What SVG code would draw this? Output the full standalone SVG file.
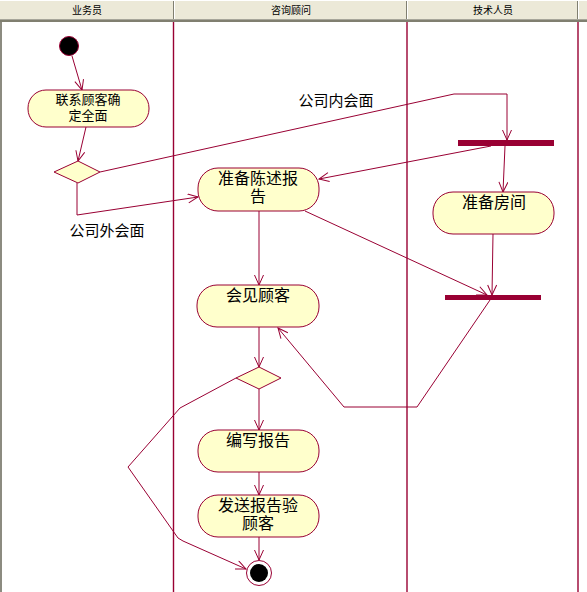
<svg xmlns="http://www.w3.org/2000/svg" width="587" height="592" viewBox="0 0 587 592">
<style>
.lane{stroke:#990033;stroke-width:1.4;fill:none}
.edge{stroke:#990033;stroke-width:1;fill:none;marker-end:url(#arr)}
.act{fill:#FFFFCC;stroke:#990033;stroke-width:1}
.bar{fill:#990033}
.t{font-family:"Liberation Sans","Noto Sans CJK SC",sans-serif;font-size:15px;fill:#000;text-anchor:middle}
.h{font-family:"Liberation Sans","Noto Sans CJK SC",sans-serif;font-size:10px;fill:#000;text-anchor:middle}
</style>
<defs>
<marker id="arr" markerUnits="userSpaceOnUse" markerWidth="14" markerHeight="12" refX="11" refY="5" orient="auto" viewBox="0 0 14 12">
<path d="M1,0.5 L11,5 L1,9.5" fill="none" stroke="#990033" stroke-width="1"/>
</marker>
</defs>
<rect width="587" height="592" fill="#fff"/>
<g id="header">
<rect x="0" y="0" width="587" height="20" fill="#ECE9D8"/>
<line x1="0" y1="0.5" x2="587" y2="0.5" stroke="#fff"/>
<line x1="0" y1="19.5" x2="587" y2="19.5" stroke="#A7A69A"/>
<line x1="0" y1="21" x2="587" y2="21" stroke="#807F70" stroke-width="2"/>
<line x1="173.5" y1="1" x2="173.5" y2="19" stroke="#807F70"/>
<line x1="174.5" y1="1" x2="174.5" y2="19" stroke="#fff"/>
<line x1="406.5" y1="1" x2="406.5" y2="19" stroke="#807F70"/>
<line x1="407.5" y1="1" x2="407.5" y2="19" stroke="#fff"/>
<line x1="577.5" y1="1" x2="577.5" y2="19" stroke="#807F70"/>
<line x1="578.5" y1="1" x2="578.5" y2="19" stroke="#fff"/>
<rect x="0" y="22" width="2" height="570" fill="#8C8B80"/>
<text class="h" x="87" y="14">业务员</text>
<text class="h" x="291" y="14">咨询顾问</text>
<text class="h" x="493" y="14">技术人员</text>
</g>
<g id="lanes">
<line class="lane" x1="173.5" y1="22" x2="173.5" y2="592"/>
<line class="lane" x1="407" y1="22" x2="407" y2="592"/>
<line class="lane" x1="578" y1="22" x2="578" y2="592"/>
</g>
<g id="connectors">
<path class="edge" d="M72,56 L82,90"/>
<path class="edge" d="M86,127 L78,161"/>
<path class="edge" d="M100,172 L454,94 L507,94 L507,140"/>
<path class="edge" d="M77,183 L77,215 L198,197"/>
<path class="edge" d="M491,146 L319,179"/>
<path class="edge" d="M505,146 L503,192"/>
<path class="edge" d="M493,234 L492,295"/>
<path class="edge" d="M305,211 L487,295"/>
<path class="edge" d="M490,300 L417,407 L344,407 L278,328"/>
<path class="edge" d="M259,211 L259,285"/>
<path class="edge" d="M259,327 L259,367"/>
<path class="edge" d="M259,389 L259,430"/>
<path class="edge" d="M259,472 L259,495"/>
<path class="edge" d="M259,537 L259,560"/>
<path class="edge" d="M236,378 L180,408 L128,467 L178,538 L183,541 L246,569"/>
</g>
<g id="start"><circle cx="69" cy="46" r="9.5" fill="#000" stroke="#990033"/></g>
<g id="contact">
<rect class="act" x="28" y="90" width="121" height="37" rx="18" ry="18"/>
<text class="t" style="font-size:13px"><tspan x="88" y="104">联系顾客确</tspan><tspan x="88" y="120">定全面</tspan></text>
</g>
<g id="decision1"><polygon class="act" points="54,172 78,161 100,172 78,183"/></g>
<g id="label-in"><text class="t" x="336" y="106">公司内会面</text></g>
<g id="label-out"><text class="t" x="107" y="236">公司外会面</text></g>
<g id="fork"><rect class="bar" x="458" y="140" width="96" height="6"/></g>
<g id="prepare-report">
<rect class="act" x="198" y="168" width="121" height="43" rx="20" ry="20"/>
<text class="t" style="font-size:16px"><tspan x="258" y="184">准备陈述报</tspan><tspan x="258" y="202">告</tspan></text>
</g>
<g id="prepare-room">
<rect class="act" x="433" y="192" width="121" height="42" rx="20" ry="20"/>
<text class="t" style="font-size:16px" x="494" y="208">准备房间</text>
</g>
<g id="join"><rect class="bar" x="445" y="295" width="96" height="5"/></g>
<g id="meet">
<rect class="act" x="197" y="285" width="122" height="42" rx="20" ry="20"/>
<text class="t" style="font-size:16px" x="258" y="301">会见顾客</text>
</g>
<g id="decision2"><polygon class="act" points="236,378 259,367 281,378 259,389"/></g>
<g id="write">
<rect class="act" x="198" y="430" width="121" height="42" rx="20" ry="20"/>
<text class="t" style="font-size:16px" x="258" y="446">编写报告</text>
</g>
<g id="send">
<rect class="act" x="198" y="495" width="121" height="42" rx="20" ry="20"/>
<text class="t" style="font-size:16px"><tspan x="258" y="511">发送报告验</tspan><tspan x="258" y="529">顾客</tspan></text>
</g>
<g id="end">
<circle cx="259" cy="573" r="12.5" fill="#fff" stroke="#990033" stroke-width="1"/>
<circle cx="259" cy="573" r="9" fill="#000"/>
</g>
</svg>
